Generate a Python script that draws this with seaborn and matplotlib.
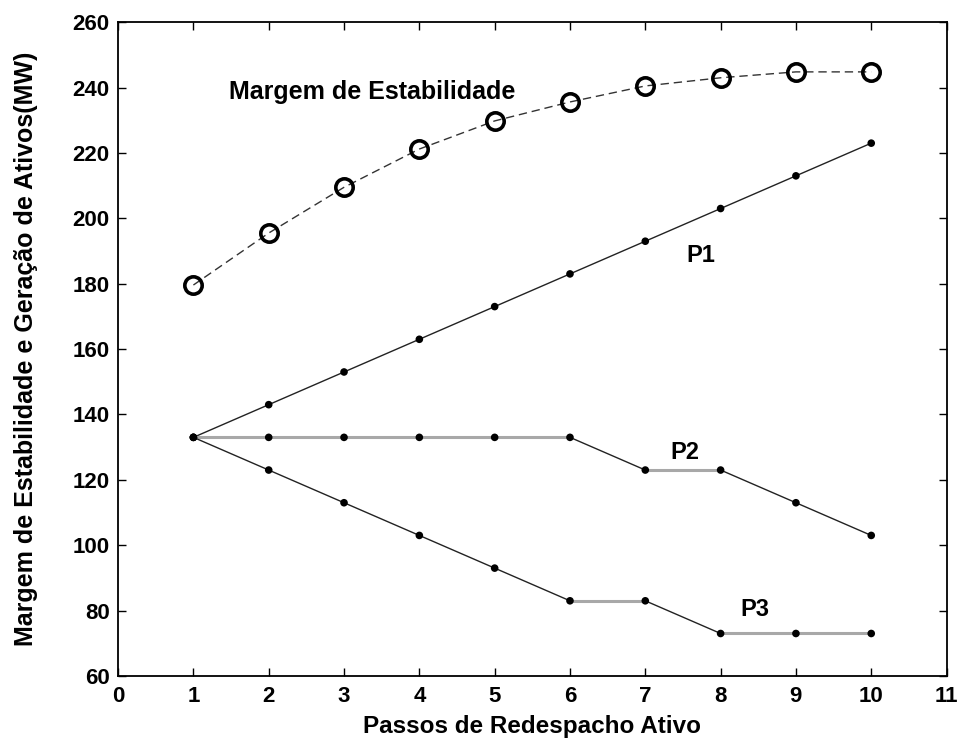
import matplotlib
matplotlib.use("Agg")
import matplotlib.pyplot as plt
import seaborn as sns
import pandas as pd

# Redispatch steps and the series plotted against them
passos = [1, 2, 3, 4, 5, 6, 7, 8, 9, 10]
margem = [179.6, 195.5, 209.5, 221.2, 229.8, 235.6, 240.5, 243.0, 244.8, 244.8]
p1 = [133, 143, 153, 163, 173, 183, 193, 203, 213, 223]
p2 = [133, 133, 133, 133, 133, 133, 123, 123, 113, 103]
p3 = [133, 123, 113, 103, 93, 83, 83, 73, 73, 73]

x_ticks = list(range(0, 12))
y_ticks = list(range(60, 261, 20))

sns.set_theme(style="ticks")
plt.rcParams["font.family"] = ["Liberation Sans", "DejaVu Sans"]
plt.rcParams.update({"text.color": "black", "axes.labelcolor": "black",
                     "xtick.color": "black", "ytick.color": "black"})

fig = plt.figure(figsize=(9.6, 7.4), dpi=100)
ax = fig.add_axes([0.123, 0.0865, 0.863, 0.8835])

# Stability margin: dashed line with open circles
df_m = pd.DataFrame({"passo": passos, "valor": margem})
sns.lineplot(data=df_m, x="passo", y="valor", ax=ax, color="#333333",
             linewidth=1.0, dashes=False, linestyle=(0, (6, 3.5)),
             marker="o", markersize=12.5, markerfacecolor="none",
             markeredgecolor="black", markeredgewidth=2.6, zorder=3)

# Generator outputs: sloped segments thin black, flat segments grey
for serie in (p1, p2, p3):
    for i in range(len(passos) - 1):
        flat = serie[i] == serie[i + 1]
        ax.plot(passos[i:i + 2], serie[i:i + 2],
                color="#a8a8a8" if flat else "#222222",
                linewidth=2.2 if flat else 1.0,
                solid_capstyle="butt", zorder=2)
    df_p = pd.DataFrame({"passo": passos, "valor": serie})
    sns.scatterplot(data=df_p, x="passo", y="valor", ax=ax, color="black",
                    s=30, edgecolor="none", zorder=4)

ax.text(3.37, 238.8, "Margem de Estabilidade", fontsize=18, fontweight="bold",
        ha="center", va="center", color="black")
ax.text(7.74, 188.5, "P1", fontsize=17, fontweight="bold", ha="center",
        va="center", color="black")
ax.text(7.52, 128.3, "P2", fontsize=17, fontweight="bold", ha="center",
        va="center", color="black")
ax.text(8.45, 80.3, "P3", fontsize=17, fontweight="bold", ha="center",
        va="center", color="black")

ax.set_xlim(0, 11)
ax.set_ylim(60, 260)
ax.set_xticks(x_ticks)
ax.set_yticks(y_ticks)
ax.set_xticklabels([str(t) for t in x_ticks], fontweight="bold", fontsize=16)
ax.set_yticklabels([str(t) for t in y_ticks], fontweight="bold", fontsize=16)
ax.tick_params(axis="both", direction="in", top=True, right=True, length=6,
               width=1.0, colors="black")
ax.tick_params(axis="x", pad=7)
ax.tick_params(axis="y", pad=6)
for side in ax.spines.values():
    side.set_linewidth(1.3)
    side.set_color("black")

ax.set_xlabel("Passos de Redespacho Ativo", fontsize=17.5, fontweight="bold",
              labelpad=6, color="black")
ax.set_ylabel("Margem de Estabilidade e Geração de Ativos(MW)", fontsize=18,
              fontweight="bold", labelpad=25, color="black")

fig.savefig("out.png", dpi=100)
